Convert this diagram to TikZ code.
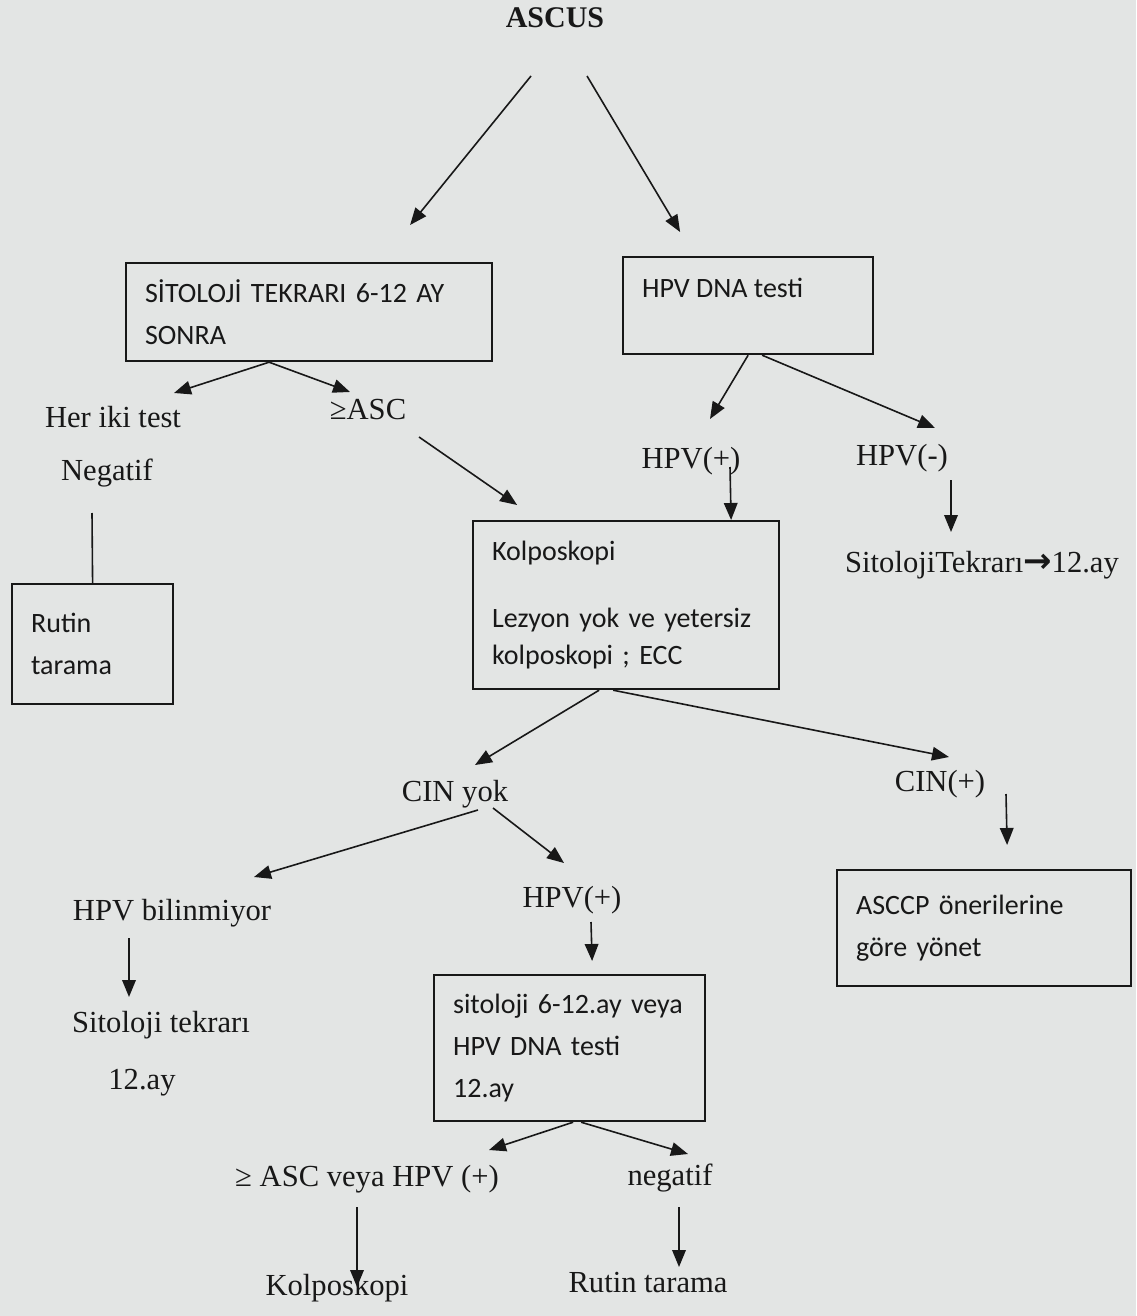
\documentclass[tikz,border=0pt]{standalone}
\usepackage{fontspec}
\setmainfont{Liberation Serif}
\newfontfamily\boxfont{Carlito}
\newfontfamily\okfont{DejaVu Sans}
\usetikzlibrary{arrows.meta,calc}
\definecolor{paper}{HTML}{E3E5E4}
\definecolor{ink}{HTML}{181818}
\tikzset{
  lbl/.style={anchor=base, inner sep=0pt, font=\fontsize{15.3}{18}\selectfont},
  kutu/.style={draw, line width=1.1pt, anchor=north west, inner xsep=9.5pt, inner ysep=3pt,
    align=left, font=\boxfont\fontsize{14}{21}\selectfont},
}
\begin{document}
\begin{tikzpicture}[x=0.5pt, y=-0.5pt, >={Triangle[length=8.5pt,width=6.8pt]}, color=ink]
  \fill[paper] (0,0) rectangle (1136,1316);
  \useasboundingbox (0,0) rectangle (1136,1316);

  % boxes
  \node[kutu, text width=164pt, minimum height=49pt] (sit) at (125,262) {SİTOLOJİ TEKRARI 6-12 AY\\SONRA};
  \node[kutu, minimum height=48.5pt] (hpvdna) at (622,256) {\parbox[t][40pt][t]{106pt}{\rule{0pt}{16pt}HPV DNA testi}};
  \node[kutu, text width=61.5pt, minimum height=60pt] (rutin) at (11,583) {Rutin\\tarama};
  \node[kutu, text width=134pt, minimum height=84pt, font=\boxfont\fontsize{14}{18.5}\selectfont] (kolpo) at (472,520) {Kolposkopi\\[15pt]Lezyon yok ve yetersiz\\kolposkopi ; ECC};
  \node[kutu, text width=128pt, minimum height=58pt] (asccp) at (836,869) {ASCCP önerilerine\\göre yönet};
  \node[kutu, text width=116.5pt, minimum height=73pt] (sitbox) at (433,974) {sitoloji 6-12.ay veya\\HPV DNA testi\\12.ay};

  % labels
  \node[lbl, font=\fontsize{15}{18}\selectfont\bfseries] (ascus) at (555,28) {ASCUS};
  \node[lbl] (heriki) at (113,427) {Her iki test};
  \node[lbl] (negatif) at (107,480) {Negatif};
  \node[lbl] (ascA) at (368,419) {≥ASC};
  \node[lbl] (hpvpos) at (691,468) {HPV(+)};
  \node[lbl] (hpvneg) at (902,465) {HPV(-)};
  \node[lbl] (sittekr) at (982,572) {SitolojiTekrarı{\okfont\bfseries\fontsize{17}{18}\selectfont →}12.ay};
  \node[lbl] (cinyok) at (455,801) {CIN yok};
  \node[lbl] (cinpos) at (940,791) {CIN(+)};
  \node[lbl] (hpvbil) at (172,920) {HPV bilinmiyor};
  \node[lbl] (hpvpos2) at (572,907) {HPV(+)};
  \node[lbl] (sittek) at (161,1032) {Sitoloji tekrarı};
  \node[lbl] (ay12) at (142,1089) {12.ay};
  \node[lbl] (ascveya) at (367,1186) {≥ ASC veya HPV (+)};
  \node[lbl] (negatif2) at (670,1185) {negatif};
  \node[lbl] (kolpo2) at (337,1295) {Kolposkopi};
  \node[lbl] (rutin2) at (648,1292) {Rutin tarama};

  % arrows
  \draw[->, thick] ($(ascus.base)+(-24,48)$) -- ($(sit.north)+(101,-37)$);
  \draw[->, thick] ($(ascus.base)+(32,48)$) -- ($(hpvdna.north)+(-68,-24)$);
  \draw[->, thick] ($(sit.south)+(-40,0)$) -- ($(heriki.base)+(61,-34)$);
  \draw[->, thick] ($(sit.south)+(-40,0)$) -- ($(ascA.base)+(-18,-27)$);
  \draw[thick] ($(negatif.base)+(-15,33)$) -- (rutin.north);
  \draw[->, thick] ($(ascA.base)+(51,18)$) -- ($(kolpo.north)+(-109,-15)$);
  \draw[->, thick] (hpvdna.south) -- ($(hpvpos.base)+(19,-49)$);
  \draw[->, thick] ($(hpvdna.south)+(14,0)$) -- ($(hpvneg.base)+(33,-37)$);
  \draw[->, thick] ($(hpvpos.base)+(39,-1)$) -- ($(kolpo.north)+(105,0)$);
  \draw[->, thick] ($(hpvneg.base)+(49,15)$) -- ($(sittekr.base)+(-31,-40)$);
  \draw[->, thick] ($(kolpo.south)+(-27,0)$) -- ($(cinyok.base)+(20,-36)$);
  \draw[->, thick] ($(kolpo.south)+(-13,0)$) -- ($(cinpos.base)+(9,-34)$);
  \draw[->, thick] ($(cinpos.base)+(66,3)$) -- ($(asccp.north)+(23,-24)$);
  \draw[->, thick] ($(cinyok.base)+(23,9)$) -- ($(hpvbil.base)+(82,-43)$);
  \draw[->, thick] ($(cinyok.base)+(38,7)$) -- ($(hpvpos2.base)+(-8,-44)$);
  \draw[->, thick] ($(hpvbil.base)+(-43,18)$) -- ($(sittek.base)+(-32,-35)$);
  \draw[->, thick] ($(hpvpos2.base)+(19,15)$) -- ($(sitbox.north)+(22.5,-13)$);
  \draw[->, thick] ($(sitbox.south)+(3.5,0)$) -- ($(ascveya.base)+(122,-36)$);
  \draw[->, thick] ($(sitbox.south)+(11.5,0)$) -- ($(negatif2.base)+(18,-31)$);
  \draw[->, thick] ($(ascveya.base)+(-10,21)$) -- ($(kolpo2.base)+(20,-8)$);
  \draw[->, thick] ($(negatif2.base)+(9,22)$) -- ($(rutin2.base)+(31,-25)$);
\end{tikzpicture}
\end{document}
